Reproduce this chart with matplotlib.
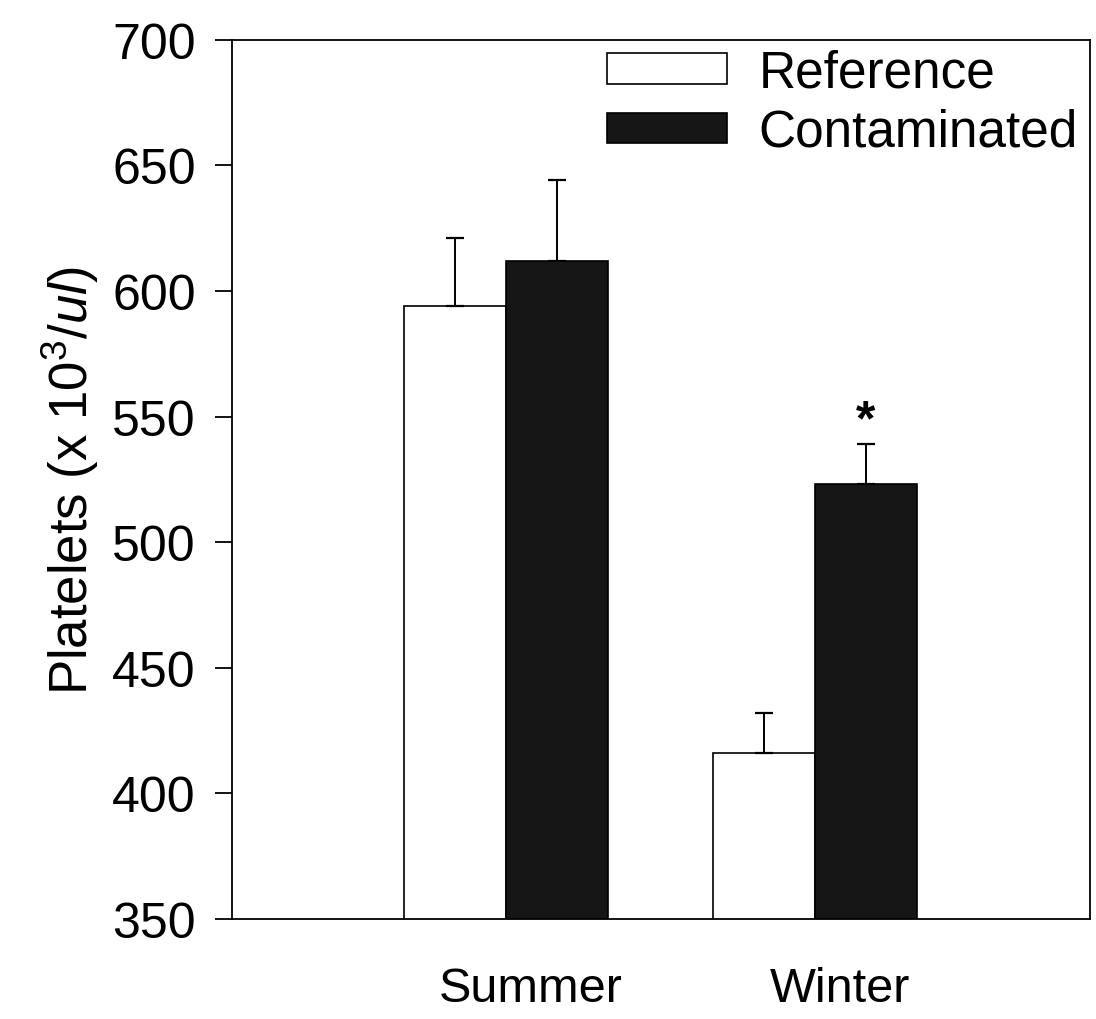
import matplotlib
matplotlib.use("Agg")
import matplotlib.pyplot as plt
import numpy as np

plt.rcParams['font.family'] = ['Liberation Sans', 'DejaVu Sans']
plt.rcParams['mathtext.fontset'] = 'custom'
plt.rcParams['mathtext.rm'] = 'Liberation Sans'
plt.rcParams['mathtext.it'] = 'Liberation Sans:italic'

seasons = ["Summer", "Winter"]
reference = [594, 416]
reference_err = [27, 16]
contaminated = [612, 523]
contaminated_err = [32, 16]
significant = [False, True]

fig = plt.figure(figsize=(10.96, 10.2), dpi=100)
ax = fig.add_axes([0.2117, 0.098, 0.7828, 0.862])

x = np.arange(1, len(seasons) + 1)
width = 0.33
err_kw = dict(elinewidth=1.4, ecolor='black', capsize=6.5, capthick=1.6)

ax.bar(x - width / 2, reference, width=width, color='white',
       edgecolor='black', linewidth=1.2, label='Reference',
       yerr=[np.zeros(len(x)), reference_err], error_kw=err_kw)
ax.bar(x + width / 2, contaminated, width=width, color='#161616',
       edgecolor='black', linewidth=1.2, label='Contaminated',
       yerr=[np.zeros(len(x)), contaminated_err], error_kw=err_kw)

# mark the significant difference above the error bar
for xi, val, err, sig in zip(x, contaminated, contaminated_err, significant):
    if sig:
        ax.annotate('*', xy=(xi + width / 2, val + err), xytext=(0, 0),
                    textcoords='offset points', ha='center', va='bottom',
                    fontsize=36, fontweight='bold')

ax.set_ylim(350, 700)
ax.set_xlim(0.113, 2.89)
ax.set_yticks(np.arange(350, 701, 50))
ax.set_xticks(x + 0.08)
ax.set_xticklabels(seasons, fontsize=35)
ax.tick_params(axis='x', length=0, pad=34)
ax.tick_params(axis='y', direction='out', length=12, width=1.3,
               labelsize=36, pad=14)
for s in ax.spines.values():
    s.set_linewidth(1.3)

ax.set_ylabel(r'Platelets (x 10$^3$/$\it{ul}$)', fontsize=38, labelpad=8)

ax.legend(loc='upper left', bbox_to_anchor=(0.437, 0.99), frameon=False,
          fontsize=37, handlelength=2.33, handleheight=0.53, handletextpad=0.62,
          labelspacing=0.2, borderaxespad=0, borderpad=0)

fig.savefig('out.png', dpi=100)
